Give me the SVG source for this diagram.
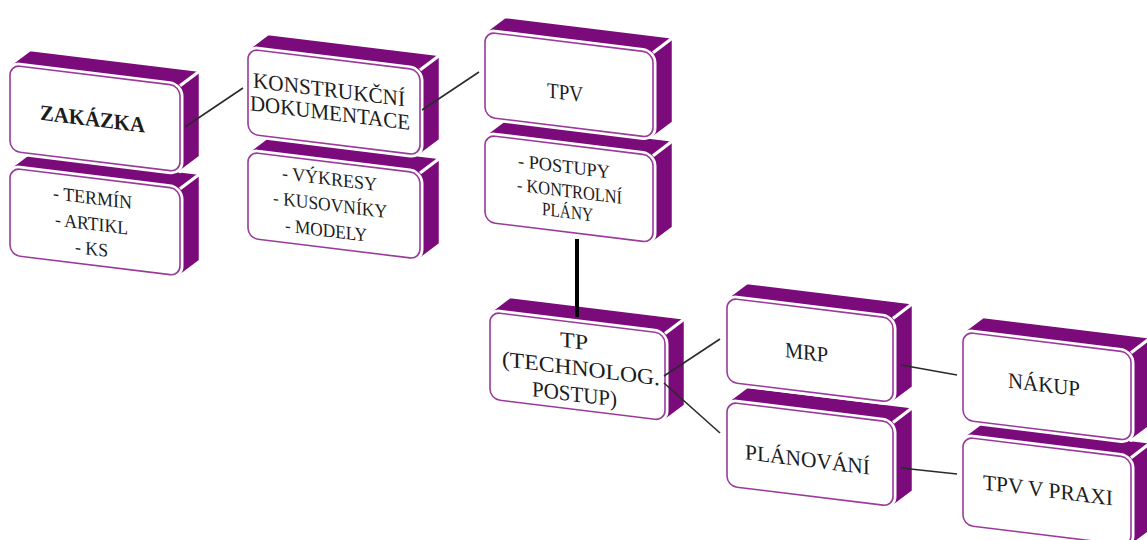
<svg xmlns="http://www.w3.org/2000/svg" width="1147" height="540" viewBox="0 0 1147 540">
  <style>
    .shell { fill: #7b0a7b; stroke: #ffffff; stroke-width: 2.5; stroke-linejoin: round; }
    .ridge { stroke: #ffffff; stroke-width: 3; }
    .halo { fill: #ffffff; stroke: #ffffff; stroke-width: 7; }
    .face { fill: #ffffff; stroke: #9a3a9a; stroke-width: 1.6; }
    .t { font-family: "Liberation Serif", "Times New Roman", serif; fill: #1c1c1c; text-anchor: middle; }
    .title { font-size: 22px; }
    .bold { font-weight: bold; }
    .item { font-size: 19px; }
    .link { stroke: #2a2a2a; stroke-width: 1.6; fill: none; }
    .trunk { stroke: #000000; stroke-width: 4; fill: none; }
  </style>
  <rect width="1147" height="540" fill="#ffffff"/>

  <!-- each block is drawn in its own skewed frame; shell = top + side faces -->
  <g id="zakazka-detail" transform="translate(10,168) skewY(7)">
    <polygon class="shell" points="0,0 20,-17.5 190,-17.5 190,69.5 170,87"/>
    <line class="ridge" x1="170" y1="0" x2="190" y2="-17.5"/>
    <rect class="halo" width="170" height="87" rx="10"/>
    <rect class="face" width="170" height="87" rx="10"/>
    <text class="t item" x="82.5" y="26" textLength="79" lengthAdjust="spacingAndGlyphs">- TERMÍN</text>
    <text class="t item" x="81.5" y="52" textLength="73" lengthAdjust="spacingAndGlyphs">- ARTIKL</text>
    <text class="t item" x="81.5" y="77" textLength="33" lengthAdjust="spacingAndGlyphs">- KS</text>
  </g>
  <g id="zakazka" transform="translate(10,65) skewY(7)">
    <polygon class="shell" points="0,0 20,-17.5 190,-17.5 190,68.5 170,86"/>
    <line class="ridge" x1="170" y1="0" x2="190" y2="-17.5"/>
    <rect class="halo" width="170" height="86" rx="10"/>
    <rect class="face" width="170" height="86" rx="10"/>
    <text class="t title bold" x="82.5" y="51" textLength="105" lengthAdjust="spacingAndGlyphs">ZAKÁZKA</text>
  </g>

  <g id="kd-detail" transform="translate(248,152) skewY(7)">
    <polygon class="shell" points="0,0 20,-17.5 192,-17.5 192,68.5 172,86"/>
    <line class="ridge" x1="172" y1="0" x2="192" y2="-17.5"/>
    <rect class="halo" width="172" height="86" rx="10"/>
    <rect class="face" width="172" height="86" rx="10"/>
    <text class="t item" x="81.5" y="23" textLength="95" lengthAdjust="spacingAndGlyphs">- VÝKRESY</text>
    <text class="t item" x="82" y="49" textLength="114" lengthAdjust="spacingAndGlyphs">- KUSOVNÍKY</text>
    <text class="t item" x="78" y="75" textLength="82" lengthAdjust="spacingAndGlyphs">- MODELY</text>
  </g>
  <g id="kd" transform="translate(248,49) skewY(7)">
    <polygon class="shell" points="0,0 20,-17.5 192,-17.5 192,67.5 172,85"/>
    <line class="ridge" x1="172" y1="0" x2="192" y2="-17.5"/>
    <rect class="halo" width="172" height="85" rx="10"/>
    <rect class="face" width="172" height="85" rx="10"/>
    <text class="t title" x="81" y="38" textLength="152" lengthAdjust="spacingAndGlyphs">KONSTRUKČNÍ</text>
    <text class="t title" x="82" y="61" textLength="160" lengthAdjust="spacingAndGlyphs">DOKUMENTACE</text>
  </g>

  <g id="tpv-detail" transform="translate(485,135) skewY(7)">
    <polygon class="shell" points="0,0 20,-17.5 188,-17.5 188,69.5 168,87"/>
    <line class="ridge" x1="168" y1="0" x2="188" y2="-17.5"/>
    <rect class="halo" width="168" height="87" rx="10"/>
    <rect class="face" width="168" height="87" rx="10"/>
    <text class="t item" x="79" y="28" textLength="92" lengthAdjust="spacingAndGlyphs">- POSTUPY</text>
    <text class="t item" x="84.5" y="52" textLength="105" lengthAdjust="spacingAndGlyphs">- KONTROLNÍ</text>
    <text class="t item" x="82.5" y="73" textLength="51" lengthAdjust="spacingAndGlyphs">PLÁNY</text>
  </g>
  <g id="tpv" transform="translate(485,32) skewY(7)">
    <polygon class="shell" points="0,0 20,-17.5 188,-17.5 188,67.5 168,85"/>
    <line class="ridge" x1="168" y1="0" x2="188" y2="-17.5"/>
    <rect class="halo" width="168" height="85" rx="10"/>
    <rect class="face" width="168" height="85" rx="10"/>
    <text class="t title" x="80" y="58" textLength="36" lengthAdjust="spacingAndGlyphs">TPV</text>
  </g>

  <g id="tp" transform="translate(490,312) skewY(7)">
    <polygon class="shell" points="0,0 20,-17.5 195,-17.5 195,69.5 175,87"/>
    <line class="ridge" x1="175" y1="0" x2="195" y2="-17.5"/>
    <rect class="halo" width="175" height="87" rx="10"/>
    <rect class="face" width="175" height="87" rx="10"/>
    <text class="t title" x="84" y="26" textLength="28" lengthAdjust="spacingAndGlyphs">TP</text>
    <text class="t title" x="91" y="52.5" textLength="158" lengthAdjust="spacingAndGlyphs">(TECHNOLOG.</text>
    <text class="t title" x="84.5" y="79" textLength="85" lengthAdjust="spacingAndGlyphs">POSTUP)</text>
  </g>

  <g id="planovani" transform="translate(727,402) skewY(7)">
    <polygon class="shell" points="0,0 20,-17.5 186,-17.5 186,66.5 166,84"/>
    <line class="ridge" x1="166" y1="0" x2="186" y2="-17.5"/>
    <rect class="halo" width="166" height="84" rx="10"/>
    <rect class="face" width="166" height="84" rx="10"/>
    <text class="t title" x="80.5" y="55" textLength="125" lengthAdjust="spacingAndGlyphs">PLÁNOVÁNÍ</text>
  </g>
  <g id="mrp" transform="translate(727,298) skewY(7)">
    <polygon class="shell" points="0,0 20,-17.5 186,-17.5 186,66.5 166,84"/>
    <line class="ridge" x1="166" y1="0" x2="186" y2="-17.5"/>
    <rect class="halo" width="166" height="84" rx="10"/>
    <rect class="face" width="166" height="84" rx="10"/>
    <text class="t title" x="79.5" y="52" textLength="43" lengthAdjust="spacingAndGlyphs">MRP</text>
  </g>

  <g id="tpv-praxi" transform="translate(963,437) skewY(7)">
    <polygon class="shell" points="0,0 20,-17.5 188,-17.5 188,70.5 168,88"/>
    <line class="ridge" x1="168" y1="0" x2="188" y2="-17.5"/>
    <rect class="halo" width="168" height="88" rx="10"/>
    <rect class="face" width="168" height="88" rx="10"/>
    <text class="t title" x="85" y="50" textLength="130" lengthAdjust="spacingAndGlyphs">TPV V PRAXI</text>
  </g>
  <g id="nakup" transform="translate(963,332) skewY(7)">
    <polygon class="shell" points="0,0 20,-17.5 188,-17.5 188,70.5 168,88"/>
    <line class="ridge" x1="168" y1="0" x2="188" y2="-17.5"/>
    <rect class="halo" width="168" height="88" rx="10"/>
    <rect class="face" width="168" height="88" rx="10"/>
    <text class="t title" x="81" y="50" textLength="72" lengthAdjust="spacingAndGlyphs">NÁKUP</text>
  </g>

  <!-- connectors -->
  <g id="connectors">
    <line class="link" x1="185" y1="127" x2="243" y2="88"/>
    <line class="link" x1="422" y1="110" x2="479" y2="72"/>
    <line class="trunk" x1="577" y1="239" x2="577" y2="317"/>
    <line class="link" x1="664" y1="376" x2="720" y2="339"/>
    <line class="link" x1="664" y1="383" x2="720" y2="433"/>
    <line class="link" x1="901" y1="365" x2="957" y2="375"/>
    <line class="link" x1="901" y1="468" x2="957" y2="474"/>
  </g>
</svg>
